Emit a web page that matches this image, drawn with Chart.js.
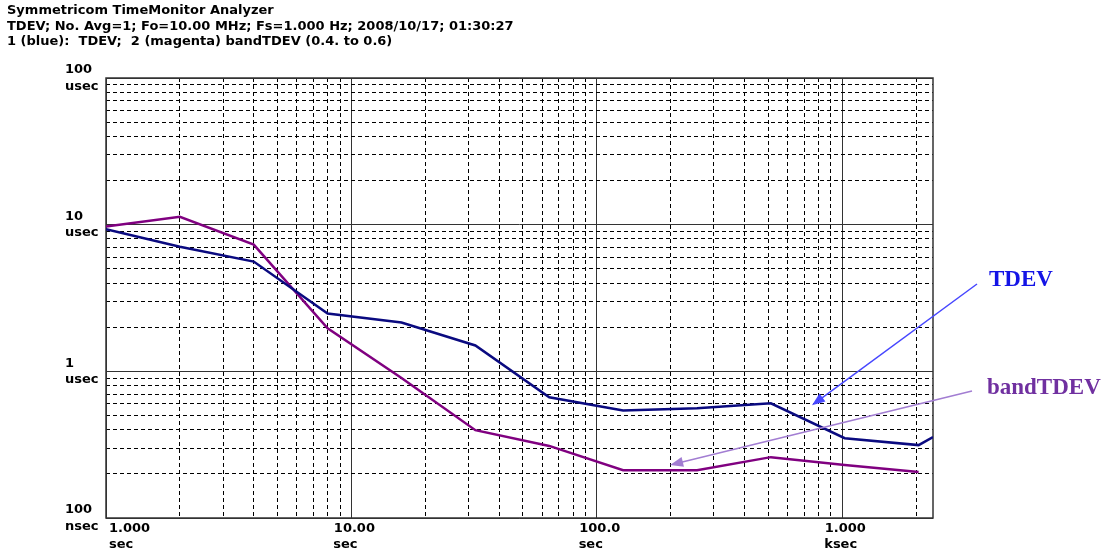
<!DOCTYPE html>
<html>
<head>
<meta charset="utf-8">
<title>Symmetricom TimeMonitor Analyzer - TDEV</title>
<script src="https://cdn.jsdelivr.net/npm/chart.js@4.4.1/dist/chart.umd.min.js"></script>
<style>
    html, body { margin: 0; padding: 0; background: #fff; }
    #wrap { position: relative; width: 1110px; height: 553px; }
    .head {
        position: absolute; left: 7px; top: 2px;
        font: bold 13px "DejaVu Sans", sans-serif;
        line-height: 15.5px; color: #000; white-space: pre;
    }
    canvas { display: block; }
</style>
</head>
<body>
<div id="wrap">
    <div class="head">Symmetricom TimeMonitor Analyzer
TDEV; No. Avg=1; Fo=10.00 MHz; Fs=1.000 Hz; 2008/10/17; 01:30:27
1 (blue):  TDEV;  2 (magenta) bandTDEV (0.4. to 0.6)</div>
    <canvas id="tdev-chart" width="1110" height="553"></canvas>
</div>
<script>
// tau (sec) and deviation values (nsec)
const tau      = [1, 2, 4, 8, 16, 32, 64, 128, 256, 512, 1024, 2048, 2344];
const tdev     = [9300, 7080, 5600, 2480, 2150, 1500, 665, 540, 560, 605, 350, 314, 356];
const bandTdev = [9700, 11330, 7310, 1963, 900, 397, 310, 212, 212, 260, 230, 206, null];

// axis ticks and labels
const xMajor = [1, 10, 100, 1000];
const xMajorLabels = [['1.000', 'sec'], ['10.00', 'sec    '], ['100.0', 'sec    '], ['1.000', 'ksec  ']];
const yMajor = [100, 1000, 10000, 100000];
const yMajorLabels = [['100', 'nsec'], ['1', 'usec'], ['10', 'usec'], ['100', 'usec']];

const X_MIN = 1, X_MAX = 2344;
const Y_MIN = 100, Y_MAX = 100000;

// minor grid values 2..9 in each decade
function decadeTicks(min, max) {
    const out = [];
    for (let d = min; d < max * 1.0001; d *= 10) {
        for (let m = 1; m <= 9; m++) {
            const v = Math.round(d * m * 1000) / 1000;
            if (v >= min && v <= max) out.push(v);
        }
    }
    return out;
}

const isMajor = (v, list) => list.some(m => Math.abs(m - v) / m < 1e-6);

// text callouts, arrow tips are given in data units
const callouts = [
    { text: 'TDEV', color: '#1414e6', arrow: '#4646ff', x: 989, y: 280, fromX: 977, fromY: 284, tau: 753, val: 587 },
    { text: 'bandTDEV', color: '#7030a0', arrow: '#a27dd2', x: 987, y: 388, fromX: 972, fromY: 391, tau: 199, val: 230 }
];

const framePlugin = {
    id: 'frame',
    beforeDatasetsDraw(chart) {
        const { ctx, chartArea: a } = chart;
        ctx.save();
        ctx.strokeStyle = '#333';
        ctx.lineWidth = 1.5;
        ctx.strokeRect(a.left, a.top, a.right - a.left, a.bottom - a.top);
        ctx.restore();
    },
    afterDraw(chart) {
        const { ctx } = chart;
        const xs = chart.scales.x, ys = chart.scales.y;
        callouts.forEach(c => {
            const tx = xs.getPixelForValue(c.tau);
            const ty = ys.getPixelForValue(c.val);
            const ang = Math.atan2(ty - c.fromY, tx - c.fromX);
            const len = 13, half = 5;
            ctx.save();
            ctx.strokeStyle = c.arrow;
            ctx.fillStyle = c.arrow;
            ctx.lineWidth = 1.5;
            ctx.beginPath();
            ctx.moveTo(c.fromX, c.fromY);
            ctx.lineTo(tx - Math.cos(ang) * len * 0.8, ty - Math.sin(ang) * len * 0.8);
            ctx.stroke();
            ctx.beginPath();
            ctx.moveTo(tx, ty);
            ctx.lineTo(tx - Math.cos(ang) * len - Math.sin(ang) * half, ty - Math.sin(ang) * len + Math.cos(ang) * half);
            ctx.lineTo(tx - Math.cos(ang) * len + Math.sin(ang) * half, ty - Math.sin(ang) * len - Math.cos(ang) * half);
            ctx.closePath();
            ctx.fill();
            ctx.font = 'bold 23px "Liberation Serif", serif';
            ctx.fillStyle = c.color;
            ctx.textBaseline = 'middle';
            ctx.textAlign = 'left';
            ctx.fillText(c.text, c.x, c.y);
            ctx.restore();
        });
    }
};

const labelFont = { family: 'DejaVu Sans', size: 13, weight: 'bold', lineHeight: 1.25 };

new Chart(document.getElementById('tdev-chart'), {
    type: 'line',
    data: {
        datasets: [
            {
                label: 'TDEV',
                data: tau.map((t, i) => ({ x: t, y: tdev[i] })),
                borderColor: '#0a0a80',
                borderWidth: 2.5,
                pointRadius: 0,
                tension: 0
            },
            {
                label: 'bandTDEV',
                data: tau.map((t, i) => ({ x: t, y: bandTdev[i] })),
                borderColor: '#800080',
                borderWidth: 2.5,
                pointRadius: 0,
                tension: 0
            }
        ]
    },
    options: {
        responsive: false,
        animation: false,
        layout: { padding: { left: 65, top: 78, right: 177, bottom: 0 } },
        plugins: {
            legend: { display: false },
            tooltip: { enabled: false }
        },
        scales: {
            x: {
                type: 'logarithmic',
                min: X_MIN,
                max: X_MAX,
                afterBuildTicks: scale => {
                    scale.ticks = decadeTicks(X_MIN, X_MAX).map(v => ({ value: v }));
                },
                afterFit: scale => { scale.height = 35; },
                grid: {
                    drawTicks: false,
                    color: ctx => isMajor(ctx.tick ? ctx.tick.value : 0, xMajor) ? '#333' : '#000',
                    lineWidth: 1
                },
                border: {
                    display: false,
                    dash: ctx => (ctx.tick && !isMajor(ctx.tick.value, xMajor)) ? [4, 3] : []
                },
                ticks: {
                    autoSkip: false,
                    maxRotation: 0,
                    minRotation: 0,
                    align: 'inner',
                    padding: 2,
                    labelOffset: 3,
                    color: '#000',
                    font: labelFont,
                    callback: value => {
                        const i = xMajor.findIndex(m => Math.abs(m - value) / m < 1e-6);
                        return i >= 0 ? xMajorLabels[i] : '';
                    }
                }
            },
            y: {
                type: 'logarithmic',
                min: Y_MIN,
                max: Y_MAX,
                afterBuildTicks: scale => {
                    scale.ticks = decadeTicks(Y_MIN, Y_MAX).map(v => ({ value: v }));
                },
                afterFit: scale => { scale.width = 41; },
                grid: {
                    drawTicks: false,
                    color: ctx => isMajor(ctx.tick ? ctx.tick.value : 0, yMajor) ? '#333' : '#000',
                    lineWidth: 1
                },
                border: {
                    display: false,
                    dash: ctx => (ctx.tick && !isMajor(ctx.tick.value, yMajor)) ? [4, 3] : []
                },
                ticks: {
                    autoSkip: false,
                    crossAlign: 'far',
                    padding: 0,
                    color: '#000',
                    font: labelFont,
                    callback: value => {
                        const i = yMajor.findIndex(m => Math.abs(m - value) / m < 1e-6);
                        return i >= 0 ? yMajorLabels[i] : '';
                    }
                }
            }
        }
    },
    plugins: [framePlugin]
});
</script>
</body>
</html>
